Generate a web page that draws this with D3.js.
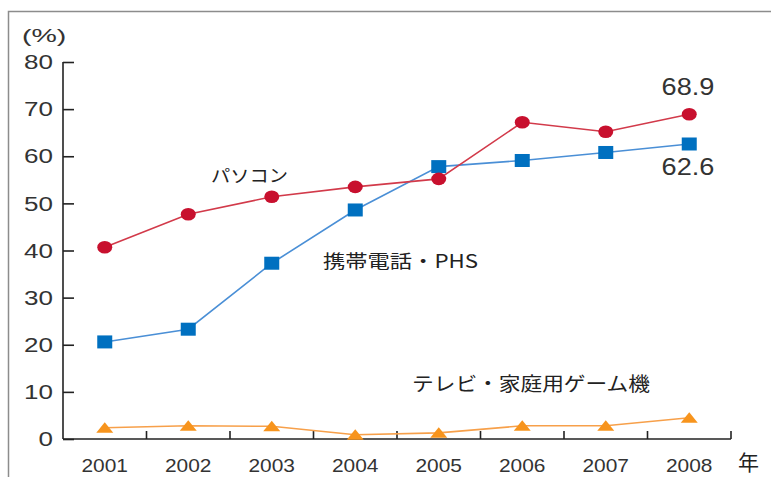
<!DOCTYPE html>
<html>
<head>
<meta charset="utf-8">
<script src="https://cdn.jsdelivr.net/npm/d3@7/dist/d3.min.js"></script>
<style>
  html, body { margin: 0; padding: 0; background: #fff; }
  svg { display: block; }
</style>
</head>
<body>
<script>
// Internet access device usage rate by year (%)
const years = ["2001", "2002", "2003", "2004", "2005", "2006", "2007", "2008"];
const pcValues = [40.7, 47.7, 51.4, 53.5, 55.2, 67.2, 65.2, 68.9];
const mobileValues = [20.6, 23.3, 37.3, 48.6, 57.8, 59.1, 60.8, 62.6];
const tvGameValues = [2.4, 2.8, 2.7, 0.9, 1.3, 2.8, 2.8, 4.5];
const yTicks = [0, 10, 20, 30, 40, 50, 60, 70, 80];

const W = 771, H = 477;
const svg = d3.select("body").append("svg").attr("width", W).attr("height", H);

const latin = "'Liberation Sans', Arial, sans-serif";
const cjk = "'Noto Sans CJK JP', sans-serif";

// widen glyphs horizontally by factor k (text is set in a wide face)
function widen(sel, k) {
  sel.each(function () {
    const len = this.getComputedTextLength();
    d3.select(this).attr("textLength", len * k).attr("lengthAdjust", "spacingAndGlyphs");
  });
  return sel;
}

// outer frame (runs off the right and bottom edges)
svg.append("path")
  .attr("d", "M8.5,800 L8.5,11.5 L900,11.5")
  .attr("fill", "none").attr("stroke", "#8c8c8c").attr("stroke-width", 1.5);

const x = d3.scaleBand().domain(years).range([63, 731]);
const y = d3.scaleLinear().domain([0, 80]).range([439, 62]);
const cx = d => x(d) + x.bandwidth() / 2;

// y axis: ticks point inward
const yAxis = svg.append("g").attr("transform", "translate(63,0)")
  .call(d3.axisRight(y).tickValues(yTicks).tickSize(11).tickFormat(""));
yAxis.select(".domain").remove();
yAxis.selectAll(".tick line").attr("stroke", "#222").attr("stroke-width", 1.6);
svg.append("line").attr("x1", 63).attr("x2", 63).attr("y1", 62).attr("y2", 439)
  .attr("stroke", "#222").attr("stroke-width", 1.6);

widen(svg.append("g").selectAll("text").data(yTicks).join("text")
  .attr("x", 53).attr("y", d => y(d)).attr("dy", "0.36em")
  .attr("text-anchor", "end")
  .attr("font-family", latin).attr("font-size", 20).attr("fill", "#333")
  .text(d => d), 1.3);

// x axis: band boundaries marked with upward ticks
const bounds = years.map(d => x(d)).concat([x.range()[1]]);
svg.append("line").attr("x1", 63).attr("x2", 731).attr("y1", 439).attr("y2", 439)
  .attr("stroke", "#222").attr("stroke-width", 1.6);
svg.append("g").selectAll("line").data(bounds.slice(1)).join("line")
  .attr("x1", d => d).attr("x2", d => d).attr("y1", 439).attr("y2", 431)
  .attr("stroke", "#222").attr("stroke-width", 1.6);

widen(svg.append("g").selectAll("text").data(years).join("text")
  .attr("x", d => cx(d)).attr("y", 472)
  .attr("text-anchor", "middle")
  .attr("font-family", latin).attr("font-size", 19).attr("fill", "#333")
  .text(d => d), 1.1);

svg.append("text").attr("x", 738).attr("y", 470)
  .attr("font-family", cjk).attr("font-size", 21).attr("fill", "#222").text("年");
widen(svg.append("text").attr("x", 22).attr("y", 42)
  .attr("font-family", latin).attr("font-size", 19).attr("fill", "#333").text("(%)"), 1.5);

const line = d3.line().x(d => cx(d[0])).y(d => y(d[1]));
const zip = vals => years.map((yr, i) => [yr, vals[i]]);

// series lines
svg.append("path").datum(zip(tvGameValues)).attr("d", line)
  .attr("fill", "none").attr("stroke", "#f7a04a").attr("stroke-width", 1.6);
svg.append("path").datum(zip(mobileValues)).attr("d", line)
  .attr("fill", "none").attr("stroke", "#4a8fd6").attr("stroke-width", 1.6);
svg.append("path").datum(zip(pcValues)).attr("d", line)
  .attr("fill", "none").attr("stroke", "#d23a4a").attr("stroke-width", 1.6);

// markers
svg.append("g").selectAll("path").data(zip(tvGameValues)).join("path")
  .attr("d", "M0,-5.5 L8.5,5 L-8.5,5 Z")
  .attr("transform", d => `translate(${cx(d[0])},${y(d[1])})`)
  .attr("fill", "#f7941d");
svg.append("g").selectAll("rect").data(zip(mobileValues)).join("rect")
  .attr("x", d => cx(d[0]) - 7.5).attr("y", d => y(d[1]) - 6.5)
  .attr("width", 15).attr("height", 13).attr("fill", "#0070c0");
svg.append("g").selectAll("ellipse").data(zip(pcValues)).join("ellipse")
  .attr("cx", d => cx(d[0])).attr("cy", d => y(d[1]))
  .attr("rx", 7.5).attr("ry", 6.3).attr("fill", "#c8102e");

// series labels
const label = (tx, ty, str, size, width) => svg.append("text").attr("x", tx).attr("y", ty)
  .attr("font-family", cjk).attr("font-size", size).attr("fill", "#222")
  .attr("textLength", width).attr("lengthAdjust", "spacingAndGlyphs").text(str);
label(211, 182, "パソコン", 17.5, 77);
label(323, 268, "携帯電話・PHS", 18.5, 155);
label(412, 391, "テレビ・家庭用ゲーム機", 19, 238);

// value labels for 2008
widen(svg.append("text").attr("x", 688).attr("y", 95).attr("text-anchor", "middle")
  .attr("font-family", latin).attr("font-size", 23).attr("fill", "#333")
  .text(pcValues[pcValues.length - 1].toFixed(1)), 1.18);
widen(svg.append("text").attr("x", 688).attr("y", 175).attr("text-anchor", "middle")
  .attr("font-family", latin).attr("font-size", 23).attr("fill", "#333")
  .text(mobileValues[mobileValues.length - 1].toFixed(1)), 1.18);
</script>
</body>
</html>
